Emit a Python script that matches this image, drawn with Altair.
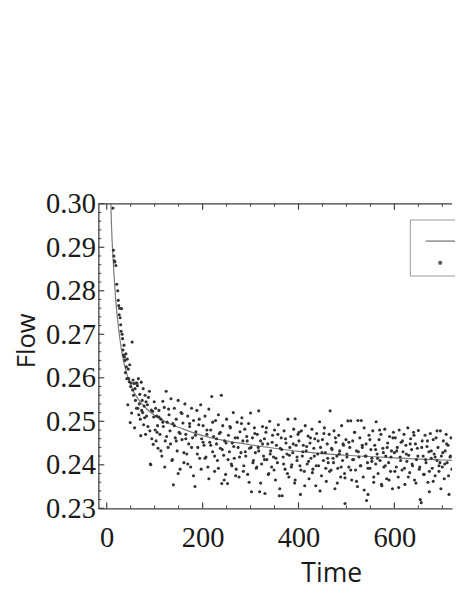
import altair as alt
import pandas as pd

# fitted curve
fit_time = [8.6, 10, 11, 13, 15, 18, 23, 28, 33, 43, 53, 63, 82, 102, 130, 160,
            200, 250, 300, 350, 400, 500, 600, 700, 730]
fit_flow = [0.3000, 0.2950, 0.2921, 0.2880, 0.2840, 0.2790, 0.2730, 0.2685, 0.2650, 0.2605,
            0.2576, 0.2555, 0.2530, 0.2512, 0.2495, 0.2482, 0.2467, 0.2455, 0.2446, 0.2438,
            0.2431, 0.2422, 0.2416, 0.2411, 0.2410]

obs_time = [
    13, 14, 15, 16, 17, 19, 21, 23, 24, 25,
    26, 27, 28, 29, 30, 31, 32, 33, 34, 35,
    36, 37, 38, 39, 40, 41, 42, 43, 44, 45,
    46, 47, 48, 49, 50, 51, 52, 53, 54, 55,
    56, 57, 58, 59, 60, 61, 62, 63, 64, 65,
    66, 67, 68, 69, 70, 71, 72, 73, 74, 75,
    76, 77, 78, 79, 80, 81, 82, 83, 85, 86,
    87, 89, 90, 91, 92, 93, 94, 96, 97, 98,
    99, 101, 102, 103, 104, 106, 107, 109, 111, 113,
    115, 117, 118, 120, 122, 124, 126, 128, 130, 132,
    134, 136, 138, 139, 141, 143, 145, 147, 149, 151,
    153, 155, 157, 159, 161, 163, 165, 167, 169, 171,
    173, 175, 177, 179, 181, 184, 186, 188, 190, 192,
    194, 196, 198, 201, 203, 205, 207, 209, 211, 213,
    215, 217, 219, 221, 223, 225, 227, 229, 231, 233,
    235, 237, 239, 240, 242, 244, 246, 248, 250, 252,
    254, 256, 258, 260, 262, 264, 266, 268, 270, 272,
    274, 276, 278, 280, 282, 284, 286, 288, 290, 292,
    294, 296, 298, 300, 302, 304, 306, 308, 310, 312,
    314, 316, 317, 319, 321, 323, 325, 327, 329, 330,
    332, 334, 336, 338, 340, 342, 344, 346, 348, 350,
    352, 354, 356, 358, 360, 362, 364, 366, 368, 370,
    372, 374, 376, 378, 380, 382, 384, 386, 388, 390,
    392, 393, 395, 397, 399, 401, 403, 404, 406, 408,
    410, 412, 414, 416, 418, 420, 422, 424, 426, 428,
    430, 432, 434, 436, 438, 440, 442, 444, 446, 448,
    450, 452, 454, 456, 458, 460, 462, 464, 466, 468,
    470, 472, 474, 476, 478, 480, 482, 484, 486, 488,
    490, 492, 494, 496, 497, 499, 501, 503, 505, 507,
    509, 511, 513, 515, 517, 519, 521, 523, 524, 526,
    528, 530, 531, 533, 535, 537, 539, 541, 542, 544,
    545, 547, 549, 551, 553, 555, 557, 559, 561, 562,
    564, 566, 568, 570, 572, 574, 576, 578, 580, 582,
    584, 586, 588, 590, 592, 594, 596, 598, 600, 602,
    604, 606, 608, 610, 612, 614, 616, 618, 620, 622,
    624, 626, 628, 630, 632, 634, 636, 638, 640, 642,
    644, 646, 648, 650, 652, 654, 656, 658, 660, 662,
    664, 666, 668, 670, 672, 673, 675, 677, 679, 681,
    683, 685, 687, 689, 691, 693, 695, 696, 698, 700,
    702, 704, 706, 708, 710, 712, 714, 716, 718, 720,
]
obs_flow = [
    .2990, .2893, .2880, .2869, .2866, .2858, .2815, .2800, .2778, .2766,
    .2745, .2760, .2738, .2722, .2707, .2759, .2700, .2690, .2664, .2652,
    .2675, .2648, .2640, .2612, .2655, .2625, .2598, .2643, .2538, .2620,
    .2598, .2591, .2630, .2497, .2580, .2588, .2519, .2682, .2572, .2595,
    .2560, .2587, .2485, .2575, .2548, .2588, .2530, .2588, .2582, .2530,
    .2598, .2515, .2540, .2562, .2505, .2467, .2590, .2525, .2548, .2520,
    .2575, .2492, .2535, .2508, .2560, .2470, .2545, .2512, .2538, .2488,
    .2555, .2569, .2478, .2402, .2400, .2526, .2460, .2523, .2447, .2510,
    .2545, .2480, .2530, .2455, .2512, .2490, .2438, .2525, .2470, .2505,
    .2420, .2546, .2488, .2532, .2455, .2569, .2498, .2440, .2515, .2478,
    .2552, .2410, .2495, .2354, .2530, .2462, .2505, .2432, .2548, .2475,
    .2390, .2520, .2458, .2496, .2405, .2540, .2470, .2425, .2512, .2448,
    .2488, .2395, .2530, .2462, .2502, .2350, .2476, .2525, .2440, .2492,
    .2415, .2538, .2460, .2490, .2445, .2512, .2418, .2470, .2395, .2528,
    .2452, .2480, .2557, .2430, .2465, .2385, .2502, .2448, .2410, .2515,
    .2472, .2438, .2560, .2357, .2490, .2422, .2455, .2378, .2505, .2357,
    .2468, .2430, .2485, .2402, .2450, .2520, .2415, .2462, .2390, .2498,
    .2440, .2372, .2476, .2428, .2508, .2455, .2398, .2482, .2420, .2465,
    .2378, .2495, .2438, .2519, .2338, .2462, .2410, .2485, .2428, .2392,
    .2470, .2440, .2524, .2338, .2455, .2402, .2488, .2420, .2460, .2334,
    .2475, .2412, .2448, .2380, .2500, .2432, .2395, .2468, .2418, .2480,
    .2365, .2445, .2405, .2492, .2329, .2438, .2462, .2329, .2418, .2478,
    .2390, .2450, .2425, .2505, .2372, .2440, .2465, .2400, .2428, .2482,
    .2358, .2506, .2445, .2410, .2470, .2455, .2398, .2332, .2478, .2420,
    .2445, .2385, .2490, .2432, .2402, .2466, .2368, .2450, .2415, .2482,
    .2390, .2438, .2460, .2352, .2472, .2425, .2398, .2499, .2440, .2375,
    .2458, .2410, .2485, .2428, .2362, .2448, .2405, .2470, .2524, .2388,
    .2435, .2415, .2478, .2345, .2452, .2420, .2392, .2468, .2432, .2372,
    .2490, .2410, .2445, .2380, .2311, .2458, .2425, .2501, .2395, .2440,
    .2501, .2365, .2455, .2412, .2475, .2388, .2432, .2350, .2502, .2418,
    .2462, .2398, .2502, .2440, .2372, .2485, .2420, .2448, .2318, .2405,
    .2332, .2468, .2392, .2435, .2415, .2478, .2360, .2445, .2402, .2499,
    .2425, .2380, .2458, .2410, .2470, .2352, .2438, .2395, .2482, .2420,
    .2368, .2450, .2405, .2465, .2385, .2432, .2345, .2475, .2428, .2462,
    .2395, .2440, .2372, .2480, .2418, .2452, .2388, .2430, .2470, .2355,
    .2445, .2408, .2485, .2422, .2382, .2460, .2435, .2398, .2475, .2365,
    .2448, .2412, .2438, .2479, .2390, .2320, .2313, .2455, .2420, .2378,
    .2468, .2405, .2442, .2360, .2430, .2338, .2472, .2415, .2392, .2458,
    .2425, .2375, .2462, .2410, .2440, .2385, .2405, .2478, .2420, .2395,
    .2455, .2368, .2432, .2470, .2405, .2445, .2332, .2418, .2462, .2390,
]

obs_time_b = [
    105, 109, 113, 117, 121, 125, 129, 133, 137, 141,
    145, 149, 153, 157, 161, 165, 169, 173, 177, 181,
    185, 189, 193, 197, 201, 205, 209, 213, 217, 221,
    225, 229, 233, 237, 241, 245, 249, 253, 257, 261,
    265, 269, 273, 277, 281, 285, 289, 293, 297, 301,
    305, 309, 313, 317, 321, 325, 329, 333, 337, 341,
    345, 349, 353, 357, 361, 365, 369, 373, 377, 381,
    385, 389, 393, 397, 401, 405, 409, 413, 417, 421,
    425, 429, 433, 437, 441, 445, 449, 453, 457, 461,
    465, 469, 473, 477, 481, 485, 489, 493, 497, 501,
    505, 509, 513, 517, 521, 525, 529, 533, 537, 541,
    545, 549, 553, 557, 561, 565, 569, 573, 577, 581,
    585, 589, 593, 597, 601, 605, 609, 613, 617, 621,
    625, 629, 633, 637, 641, 645, 649, 653, 657, 661,
    665, 669, 673, 677, 681, 685, 689, 693, 697, 701,
    705, 709, 713, 717,
]
obs_flow_b = [
    .2475, .2510, .2432, .2498, .2395, .2465, .2528, .2448, .2412, .2490,
    .2455, .2380, .2472, .2518, .2428, .2460, .2402, .2495, .2440, .2375,
    .2468, .2425, .2505, .2390, .2452, .2415, .2480, .2368, .2445, .2498,
    .2420, .2460, .2392, .2475, .2435, .2365, .2450, .2412, .2488, .2398,
    .2442, .2375, .2462, .2418, .2495, .2385, .2430, .2455, .2360, .2440,
    .2405, .2472, .2395, .2432, .2358, .2448, .2412, .2485, .2378, .2425,
    .2452, .2388, .2415, .2470, .2345, .2435, .2402, .2460, .2380, .2422,
    .2395, .2448, .2365, .2418, .2475, .2388, .2430, .2352, .2442, .2408,
    .2462, .2382, .2420, .2398, .2455, .2340, .2428, .2472, .2392, .2415,
    .2385, .2438, .2405, .2462, .2358, .2425, .2395, .2448, .2370, .2418,
    .2452, .2388, .2412, .2475, .2362, .2430, .2398, .2445, .2342, .2420,
    .2392, .2458, .2408, .2372, .2435, .2415, .2480, .2355, .2428, .2398,
    .2440, .2365, .2418, .2462, .2385, .2432, .2348, .2410, .2455, .2392,
    .2425, .2372, .2448, .2402, .2468, .2358, .2420, .2395, .2440, .2378,
    .2412, .2455, .2385, .2432, .2362, .2418, .2478, .2398, .2345, .2428,
    .2402, .2448, .2375, .2420,
]

x_major = [0, 200, 400, 600]
x_minor = [50, 100, 150, 250, 300, 350, 450, 500, 550, 650, 700]
y_major = [0.23, 0.24, 0.25, 0.26, 0.27, 0.28, 0.29, 0.30]
y_minor = [0.232, 0.234, 0.236, 0.238, 0.242, 0.244, 0.246, 0.248,
           0.252, 0.254, 0.256, 0.258, 0.262, 0.264, 0.266, 0.268,
           0.272, 0.274, 0.276, 0.278, 0.282, 0.284, 0.286, 0.288,
           0.292, 0.294, 0.296, 0.298]
series_names = ["Fit", "Data"]

W, H = 360, 310
FRAME = "#3f3f3f"
SERIF = "Liberation Serif, Times New Roman, serif"

xs = alt.Scale(domain=[-17.4, 720.3], nice=False, zero=False)
ys = alt.Scale(domain=[0.23, 0.30], nice=False, zero=False)

x_axis = alt.Axis(values=x_major, format="d", grid=False, ticks=True, tickSize=0,
                  domain=True, domainColor=FRAME, domainWidth=1.3,
                  labelFont=SERIF, labelFontSize=29, labelColor="#1a1a1a",
                  labelPadding=16, labelFlush=False, labelOverlap=False,
                  title="Time", titleFont="Open Sans", titleFontSize=27,
                  titleFontWeight="normal", titleColor="#1a1a1a",
                  titleX=237, titleY=75, titleAlign="center", titleBaseline="alphabetic")
y_axis = alt.Axis(values=y_major, format=".2f", grid=False, ticks=True, tickSize=0,
                  domain=True, domainColor=FRAME, domainWidth=1.3,
                  labelFont=SERIF, labelFontSize=29, labelColor="#1a1a1a",
                  labelPadding=3, labelFlush=False, labelOverlap=False,
                  title="Flow", titleFont="Open Sans", titleFontSize=26,
                  titleFontWeight="normal", titleColor="#1a1a1a", titleAngle=270,
                  titleX=-65, titleY=139, titleAlign="center", titleBaseline="alphabetic")

X = lambda: alt.X("t:Q", scale=xs, axis=x_axis, title="Time")
Y = lambda: alt.Y("f:Q", scale=ys, axis=y_axis, title="Flow")

fit_df = pd.DataFrame({"t": fit_time, "f": fit_flow})
all_t = obs_time + obs_time_b
all_f = obs_flow + obs_flow_b
obs_df = pd.DataFrame({"t": all_t, "f": all_f, "s": ["Data"] * len(all_t)})

leg = alt.Legend(orient="none", legendX=317, legendY=16, title=None, padding=6,
                 strokeColor="#9a9a9a", fillColor="white", symbolStrokeColor="#7a7a7a",
                 symbolStrokeWidth=1.3, symbolOffset=9, labelFontSize=14, rowPadding=8,
                 labelExpr="'          '", labelColor="#333333")

line = alt.Chart(fit_df).mark_line(color="#7a7a7a", strokeWidth=1.2,
                                   interpolate="monotone", clip=True).encode(x=X(), y=Y())

pts = alt.Chart(obs_df).mark_point(filled=True, opacity=1, clip=True).encode(
    x=X(), y=Y(),
    color=alt.Color("s:N", scale=alt.Scale(domain=series_names, range=["#7a7a7a", "#333333"]),
                    legend=leg),
    shape=alt.Shape("s:N", scale=alt.Scale(domain=series_names, range=["stroke", "circle"]),
                    legend=leg),
    size=alt.Size("s:N", scale=alt.Scale(domain=series_names, range=[900, 10]), legend=leg),
)

ymaj = alt.Chart(pd.DataFrame({"f": y_major})).mark_rule(color=FRAME, strokeWidth=1.2).encode(
    y=Y(), x=alt.value(0), x2=alt.value(6))
ymin = alt.Chart(pd.DataFrame({"f": y_minor})).mark_rule(color=FRAME, strokeWidth=1).encode(
    y=Y(), x=alt.value(0), x2=alt.value(3))
xmaj_b = alt.Chart(pd.DataFrame({"t": x_major})).mark_rule(color=FRAME, strokeWidth=1.2).encode(
    x=X(), y=alt.value(H), y2=alt.value(H - 6))
xmin_b = alt.Chart(pd.DataFrame({"t": x_minor})).mark_rule(color=FRAME, strokeWidth=1).encode(
    x=X(), y=alt.value(H), y2=alt.value(H - 3))
xmaj_t = alt.Chart(pd.DataFrame({"t": x_major})).mark_rule(color=FRAME, strokeWidth=1.2).encode(
    x=X(), y=alt.value(0), y2=alt.value(6))
xmin_t = alt.Chart(pd.DataFrame({"t": x_minor})).mark_rule(color=FRAME, strokeWidth=1).encode(
    x=X(), y=alt.value(0), y2=alt.value(3))
top = alt.Chart(pd.DataFrame({"f": [0.30]})).mark_rule(color=FRAME, strokeWidth=1.3).encode(
    y=Y(), x=alt.value(0), x2=alt.value(W))

chart = alt.layer(line, pts, ymaj, ymin, xmaj_b, xmin_b, xmaj_t, xmin_t, top).properties(
    width=W, height=H,
    autosize=alt.AutoSizeParams(type="none"),
    padding={"left": 92, "top": 194, "right": 3, "bottom": 85},
    background="white",
).configure_view(strokeWidth=0).configure_axis(labelFont=SERIF)

chart.save("out.html", embed_options={"renderer": "svg", "actions": False})
